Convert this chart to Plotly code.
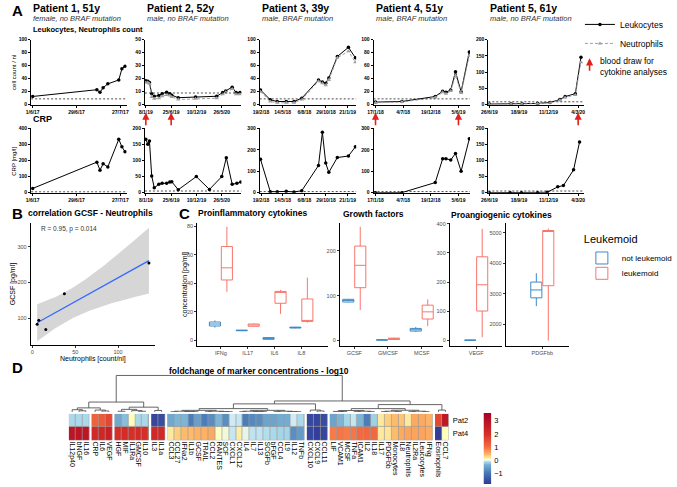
import numpy as np
import plotly.graph_objects as go

W, H = 677, 487
FONT = "Liberation Sans, Arial, sans-serif"

# ---------------- panel A: leukocytes / neutrophils / CRP time courses ----------------
p1_dates = ["2017-06-01", "2017-07-12", "2017-07-14", "2017-07-16", "2017-07-19",
            "2017-07-26", "2017-07-28", "2017-07-30"]
p1_leuko = [12.7, 23, 19, 26, 32, 38, 55, 59]
p1_crp = [26, 190, 140, 180, 160, 332, 286, 255]

p2_dates = ["2019-01-08", "2019-01-21", "2019-02-01", "2019-02-16", "2019-03-05", "2019-04-04",
            "2019-04-26", "2019-05-26", "2019-06-16", "2019-06-29", "2019-08-11", "2019-12-04",
            "2020-04-22", "2020-06-01", "2020-06-21", "2020-08-03", "2020-08-29", "2020-09-24"]
p2_leuko = [18.4, 18, 17, 8.5, 6.5, 7, 8.5, 9.6, 8.5, 7.3, 5.4, 6, 6.5, 9.3, 10.6, 13.5, 9.3, 9.3]
p2_neutro = [17, 17, 16, 6, 4.5, 5, 6.5, 7.5, 7, 6, 4, 4.5, 5, 8, 9.5, 12, 8, 8]
p2_crp_dates = ["2019-01-08", "2019-01-21", "2019-02-01", "2019-02-16", "2019-03-05", "2019-04-04",
                "2019-04-26", "2019-05-26", "2019-06-16", "2019-06-29", "2019-08-11", "2019-12-09",
                "2020-03-05", "2020-05-26", "2020-06-25", "2020-08-03", "2020-09-03", "2020-09-29"]
p2_crp = [166, 151, 161, 52, 15, 26, 29, 29, 33, 34, 9, 50, 10, 50, 109, 26, 29, 33]

p3_dates = ["2018-02-17", "2018-03-27", "2018-04-23", "2018-05-28", "2018-06-27", "2018-07-27",
            "2018-09-30", "2018-10-15", "2018-10-28", "2018-11-09", "2018-12-12", "2019-01-24",
            "2019-02-20"]
p3_leuko = [22.7, 7.6, 5, 5, 5, 10, 38, 35, 33, 41, 74, 88, 72]
p3_neutro = [20, 5, 3, 3, 3, 8, 36, 33, 30, 38, 72, 82, 65]
p3_crp = [156, 4.5, 4.5, 6, 3, 9, 127, 282, 138, 95, 164, 171, 214]

p4_dates = ["2018-01-17", "2018-06-26", "2019-01-15", "2019-03-01", "2019-03-21", "2019-04-19",
            "2019-05-18", "2019-06-21", "2019-08-10"]
p4_leuko = [4, 5, 12.6, 20.7, 19.2, 22.7, 50.5, 20, 81]
p4_neutro = [3, 4, 11, 19, 17, 21, 45, 18, 75]
p4_crp = [0, 0, 47, 158, 158, 153, 183, 100, 252]

p5_dates = ["2019-06-26", "2019-08-27", "2019-09-27", "2019-11-10", "2019-12-15", "2020-01-12",
            "2020-01-27", "2020-02-25", "2020-03-12"]
p5_leuko = [2, 3, 3, 4, 7, 16, 25, 34, 146]
p5_neutro = [1, 2, 2, 3, 6, 14, 22, 30, 130]
p5_crp_dates = ["2019-06-26", "2019-08-24", "2019-09-25", "2019-11-10", "2019-12-07", "2020-01-06",
                "2020-01-22", "2020-02-20", "2020-03-08"]
p5_crp = [0, 0, 0, 0, 1, 18, 22, 71, 158]

p1_ticks = ["2017-06-01", "2017-06-29", "2017-07-27"]
p2_ticks = ["2019-01-08", "2019-06-25", "2019-12-10", "2020-05-26"]
p3_ticks = ["2018-02-19", "2018-05-14", "2018-08-06", "2018-10-29", "2019-01-21"]
p4_ticks = ["2018-01-17", "2018-07-04", "2018-12-19", "2019-06-05"]
p5_ticks = ["2019-06-26", "2019-09-18", "2019-12-11", "2020-03-04"]

# blood draws for cytokine analyses
p2_draws = ["2019-01-08", "2019-06-25"]
p4_draws = ["2018-01-17", "2019-06-05"]
p5_draws = ["2020-03-04"]

patient_titles = ["Patient 1, 51y", "Patient 2, 52y", "Patient 3, 39y", "Patient 4, 51y", "Patient 5, 61y"]
patient_info = ["female, no BRAF mutation", "male, no BRAF mutation", "male, BRAF mutation",
                "male, BRAF mutation", "male, no BRAF mutation"]
leuko_limit = 9
crp_limit = 5

# ---------------- panel B: GCSF vs neutrophils ----------------
b_neutro = [5.6, 7.5, 15.7, 37.4, 136]
b_gcsf = [83, 94, 68, 168, 254]

# ---------------- panel C: cytokine boxplots (lo, q1, median, q3, hi) ----------------
pro_cats = ["IFNg", "IL17", "IL6", "IL8"]
pro_not = dict(lo=[9.0, 6.7, 0.6, 8.5], q1=[10.1, 6.8, 0.8, 8.7], med=[11.5, 7.0, 1.4, 9.0],
               q3=[12.9, 7.2, 2.0, 9.3], hi=[14.0, 7.3, 2.2, 9.5])
pro_leu = dict(lo=[34, 9.5, 18.6, 12.4], q1=[42.3, 9.9, 26.0, 13.3], med=[50.8, 10.8, 33.6, 14.0],
               q3=[65.7, 11.5, 34.3, 29.0], hi=[79.5, 12.0, 35.3, 44.0])
gf_cats = ["GCSF", "GMCSF", "MCSF"]
gf_not = dict(lo=[85, 0.5, 19], q1=[86, 0.8, 21], med=[89.5, 1.2, 24], q3=[92, 1.6, 27], hi=[93, 2, 30])
gf_leu = dict(lo=[68, 1.5, 32], q1=[118, 2.2, 48], med=[168, 4, 64], q3=[211, 5.3, 79], hi=[254, 6, 92])
vegf_not = dict(lo=[0.3], q1=[0.5], med=[1.0], q3=[1.5], hi=[1.8])
vegf_leu = dict(lo=[11], q1=[101], med=[191], q3=[287], hi=[383])
pdgf_not = dict(lo=[2600], q1=[2871], med=[3129], q3=[3387], hi=[3677])
pdgf_leu = dict(lo=[1471], q1=[3268], med=[5050], q3=[5074], hi=[5140])

# ---------------- panel D: log10 fold change heatmap ----------------
hm_labels = ["IL12p40", "bNGF", "IL16", "CRP", "IL6", "VEGF", "HGF", "MIF", "IL1Ra", "GMCSF", "IL10",
             "IL3", "IL1a",
             "CCL3", "CCL27", "IFNa2", "IL1b", "GCSF", "TRAIL", "CCL2", "RANTES", "SCF", "CXCL1",
             "CXCL12", "IL4", "IL7", "IL13", "SCGFb", "bFGF", "CCL4", "IL9", "IL12", "TNFb",
             "CXCL10", "CXCL9", "CCL11",
             "LIF", "VCAM1", "MCSF", "TNFa", "ICAM1", "IL2", "IL18", "IL17", "PDGFbb", "Monocytes",
             "IL8", "Neutrophils", "IL2Ra", "Leucocytes", "IFNg",
             "Eosinophils", "CCL7"]
hm_pat2 = [-0.1, -0.1, -0.1, 1.2, 1.3, 1.6, -0.4, -0.25, 0.1, -0.1, -0.1,
           -1.6, -1.5,
           -0.4, -0.3, -0.3, -0.9, -0.5, -0.9, -0.7, -0.3, -0.7, -0.03,
           -0.05, -0.9, -0.75, -0.7, -0.45, -0.45, -0.35, -0.35, -0.03, -0.1,
           -1.55, -1.6, -1.5,
           -0.45, -0.3, -0.12, -0.05, -0.3, -0.9, -0.15, 0.2, 0.35, 0.45, 0.4, 0.2, 0.55, 0.55, 0.5,
           1.6, 2.8]
hm_pat4 = [2.9, 2.9, 2.9, 2.2, 2.3, 2.5, 2.0, 2.1, 2.0, 2.1, 2.0,
           2.2, 2.2,
           0.2, 0.35, 0.45, 0.45, 0.5, 0.5, 0.55, 0.08, 0.05, -0.05,
           0.18, 0.02, -0.06, -0.06, -0.08, -0.1, -0.12, -0.12, -0.7, -0.55,
           -1.6, -1.7, -1.6,
           0.9, 0.95, 0.9, 0.95, 1.05, 1.1, 1.1, 0.2, 0.22, 0.45, 0.55, 0.6, 0.6, 0.6, 0.55,
           -1.7, 0.1]
hm_groups = [3, 3, 5, 2, 20, 3, 15, 2]
# cluster tree over the column groups: (left, right, merge height), ints are groups
group_heights = [0.6, 0.5, 0.7, 0.4, 0.9, 0.5, 0.9, 0.5]
group_tree = (((0, 1, 1.1), (2, 3, 1.3), 2.7), ((4, 5, 2.2), (6, 7, 2.0), 3.0), 10.0)
hm_zmin, hm_zmax = -1.8, 3.6

# ======================================================================
fig = go.Figure()
annotations = []
shapes = []


def sfx(n):
    return "" if n == 1 else str(n)


def xdom(a, b):
    return [a / W, b / W]


def ydom(top, bottom):
    return [1 - bottom / H, 1 - top / H]


def label(x, y, text, size, bold=False, italic=False, color="black", anchor="left", angle=0):
    if bold:
        text = f"<b>{text}</b>"
    if italic:
        text = f"<i>{text}</i>"
    annotations.append(dict(x=x / W, y=1 - y / H, xref="paper", yref="paper", text=text,
                            showarrow=False, xanchor=anchor, yanchor="middle", textangle=angle,
                            align="left", font=dict(size=size, color=color, family=FONT)))


# ---------------- panel A ----------------
dates = [p1_dates, p2_dates, p3_dates, p4_dates, p5_dates]
leuko = [p1_leuko, p2_leuko, p3_leuko, p4_leuko, p5_leuko]
neutro = [None, p2_neutro, p3_neutro, p4_neutro, p5_neutro]
crp_dates = [p1_dates, p2_crp_dates, p3_dates, p4_dates, p5_crp_dates]
crp = [p1_crp, p2_crp, p3_crp, p4_crp, p5_crp]
ticks = [p1_ticks, p2_ticks, p3_ticks, p4_ticks, p5_ticks]
draws = [[], p2_draws, [], p4_draws, p5_draws]

a_xdom = [(25, 124), (143, 243), (262, 362), (380, 480), (499, 598)]
a_xrange = [["2017-05-31", "2017-07-31"], ["2019-01-02", "2020-10-03"], ["2018-02-14", "2019-02-23"],
            ["2018-01-05", "2019-08-14"], ["2019-06-23", "2020-03-20"]]
leuko_ymax = [100, 50, 100, 100, 200]
leuko_dtick = [20, 10, 20, 20, 50]
crp_ymax = [400, 200, 300, 300, 200]
crp_dtick = [100, 50, 100, 100, 50]

tickfont_a = dict(size=5, family=FONT, weight="bold", color="black")
axis_a = dict(showline=True, linecolor="black", linewidth=1, ticks="outside", ticklen=2,
              tickwidth=1, tickcolor="black", showgrid=False, zeroline=False, tickfont=tickfont_a)
layout_axes = {}

for i in range(5):
    n1, n2 = i + 1, i + 6
    fig.add_trace(go.Scatter(x=dates[i], y=leuko[i], mode="lines+markers", name="Leukocytes",
                             line=dict(color="black", width=1), marker=dict(size=3.5, color="black"),
                             showlegend=(i == 0), xaxis="x" + sfx(n1), yaxis="y" + sfx(n1)))
    if neutro[i] is not None:
        fig.add_trace(go.Scatter(x=dates[i], y=neutro[i], mode="lines+markers", name="Neutrophils",
                                 line=dict(color="#a0a0a0", width=1, dash="3px,2px"),
                                 marker=dict(size=4, color="#a0a0a0", symbol="triangle-up"),
                                 showlegend=(i == 1), xaxis="x" + sfx(n1), yaxis="y" + sfx(n1)))
    fig.add_trace(go.Scatter(x=crp_dates[i], y=crp[i], mode="lines+markers", showlegend=False,
                             line=dict(color="black", width=1), marker=dict(size=3.5, color="black"),
                             xaxis="x" + sfx(n2), yaxis="y" + sfx(n2)))

    for n, top, bot, ymax, dt, lim in [(n1, 37, 103, leuko_ymax[i], leuko_dtick[i], leuko_limit),
                                       (n2, 127, 192, crp_ymax[i], crp_dtick[i], crp_limit)]:
        layout_axes["xaxis" + sfx(n)] = dict(axis_a, domain=xdom(*a_xdom[i]), range=a_xrange[i],
                                             type="date", tickvals=ticks[i], tickformat="%-d/%-m/%y",
                                             tickangle=0, anchor="y" + sfx(n))
        layout_axes["yaxis" + sfx(n)] = dict(axis_a, domain=ydom(top, bot), range=[0, ymax],
                                             dtick=dt, anchor="x" + sfx(n))
        shapes.append(dict(type="line", xref="x" + sfx(n) + " domain", yref="y" + sfx(n),
                           x0=0, x1=1, y0=lim, y1=lim,
                           line=dict(color="black", width=0.7, dash="2px,2px")))

    for d in draws[i]:
        annotations.append(dict(x=d, y=1 - 111 / H, xref="x" + sfx(n1), yref="paper", text="",
                                showarrow=True, ax=0, ay=14, arrowhead=2, arrowsize=0.9,
                                arrowwidth=1.6, arrowcolor="#e3211c"))

    label(a_xdom[i][0], 5.5, patient_titles[i], 10.5, bold=True)
    label(a_xdom[i][0], 15.5, patient_info[i], 7.5, italic=True, color="#333333")

label(3, 8, "A", 15, bold=True)
label(25, 27, "Leukocytes, Neutrophils count", 7.5, bold=True)
label(25, 117, "CRP", 9, bold=True)
label(7, 70, "cell count / nl", 6, anchor="center", angle=-90)
label(7, 160, "CRP [mg/l]", 6, anchor="center", angle=-90)
annotations.append(dict(x=604 / W, y=1 - 56 / H, xref="paper", yref="paper", text="", showarrow=True,
                        ax=0, ay=14, arrowhead=2, arrowsize=0.9, arrowwidth=1.6, arrowcolor="#e3211c"))
label(613, 64, "blood draw for<br>cytokine analyses", 8.5)

# ---------------- panel B ----------------
bx = np.array(b_neutro, dtype=float)
by = np.array(b_gcsf, dtype=float)
nb = len(bx)
slope, icpt = np.polyfit(bx, by, 1)
xs = np.linspace(bx.min(), bx.max(), 80)
fit = icpt + slope * xs
resid = by - (icpt + slope * bx)
s_err = np.sqrt(np.sum(resid ** 2) / (nb - 2))
sxx = np.sum((bx - bx.mean()) ** 2)
se = s_err * np.sqrt(1 / nb + (xs - bx.mean()) ** 2 / sxx)
tval = 3.182  # t quantile 0.975, df = 3

fig.add_trace(go.Scatter(x=xs, y=fit - tval * se, mode="lines", line=dict(width=0), showlegend=False,
                         xaxis="x11", yaxis="y11", hoverinfo="skip"))
fig.add_trace(go.Scatter(x=xs, y=fit + tval * se, mode="lines", line=dict(width=0), fill="tonexty",
                         fillcolor="rgba(153,153,153,0.4)", showlegend=False, xaxis="x11", yaxis="y11",
                         hoverinfo="skip"))
fig.add_trace(go.Scatter(x=xs, y=fit, mode="lines", line=dict(color="#3366FF", width=1.2),
                         showlegend=False, xaxis="x11", yaxis="y11"))
fig.add_trace(go.Scatter(x=bx, y=by, mode="markers", marker=dict(color="black", size=3),
                         showlegend=False, xaxis="x11", yaxis="y11"))

gg_tick = dict(size=5.5, family=FONT, color="#4d4d4d")
axis_gg = dict(showline=True, linecolor="black", linewidth=0.8, ticks="outside", ticklen=2,
               tickcolor="#333333", showgrid=False, zeroline=False, tickfont=gg_tick)
layout_axes["xaxis11"] = dict(axis_gg, domain=xdom(24.5, 153), range=[-2, 142.6], tickvals=[0, 50, 100],
                              anchor="y11")
layout_axes["yaxis11"] = dict(axis_gg, domain=ydom(223, 346), range=[25.3, 365.6],
                              tickvals=[100, 200, 300], anchor="x11")
label(3, 213, "B", 15, bold=True)
label(20, 213, "correlation GCSF - Neutrophils", 8.5, bold=True)
label(33, 229, "R = 0.95, p = 0.014", 6.5, color="#333333")
label(7, 285, "GCSF [pg/ml]", 7, anchor="center", angle=-90)
label(89, 360, "Neutrophils [count/nl]", 7, anchor="center")

# ---------------- panel C ----------------
BLUE, RED = "#3e8ac4", "#f8766d"
BOX_PX, DODGE_PX = 11.5, 6.2
c_panels = [
    (12, pro_cats, pro_not, pro_leu, (197, 333), [-0.89, 4.0], [-3.7, 82], [0, 20, 40, 60, 80]),
    (13, gf_cats, gf_not, gf_leu, (345, 452), [-0.43, 2.63], [-11.7, 262], [0, 100, 200]),
    (14, ["VEGF"], vegf_not, vegf_leu, (459, 513), [-0.61, 0.59], [-18, 402], [0, 100, 200, 300, 400]),
    (15, ["PDGFbb"], pdgf_not, pdgf_leu, (517, 583), [-0.84, 0.62], [1305, 5311], [2000, 3000, 4000, 5000]),
]
for k, (n, cats, d_not, d_leu, xd, xr, yr, yt) in enumerate(c_panels):
    ppu = (xd[1] - xd[0]) / (xr[1] - xr[0])
    for name, color, d, sgn, lg in [("not leukemoid", BLUE, d_not, -1, "legend2"),
                                    ("leukemoid", RED, d_leu, 1, "legend3")]:
        fig.add_trace(go.Box(x=[j + sgn * DODGE_PX / ppu for j in range(len(cats))],
                             q1=d["q1"], median=d["med"], q3=d["q3"],
                             lowerfence=d["lo"], upperfence=d["hi"], name=name, width=BOX_PX / ppu,
                             showlegend=(k == 0), legend=lg, boxpoints=False, whiskerwidth=0,
                             fillcolor="white", line=dict(color=color, width=1), marker=dict(color=color),
                             xaxis="x" + str(n), yaxis="y" + str(n)))
    layout_axes["xaxis" + str(n)] = dict(axis_gg, domain=xdom(*xd), range=xr,
                                         tickvals=list(range(len(cats))), ticktext=cats,
                                         anchor="y" + str(n))
    layout_axes["yaxis" + str(n)] = dict(axis_gg, domain=ydom(223, 347), range=yr, tickvals=yt,
                                         anchor="x" + str(n))
label(176, 213, "C", 15, bold=True)
label(196, 213, "Proinflammatory cytokines", 8.5, bold=True)
label(346, 214, "Growth factors", 8.5, bold=True)
label(458, 215, "Proangiogenic cytokines", 8.5, bold=True)
label(185, 285, "concentration [pg/ml]", 7, anchor="center", angle=-90)

# ---------------- panel D ----------------
GAP = 0.35
pos, starts = [], []
col = 0
for g, size in enumerate(hm_groups):
    starts.append(col)
    for j in range(size):
        pos.append(col + g * GAP)
        col += 1
starts.append(col)

hm_scale = [[0.0, "#313695"], [0.15, "#4575b4"], [0.27, "#74add1"], [0.315, "#abd9e9"],
            [0.333, "#e0f3f8"], [0.35, "#ffffbf"], [0.38, "#fee090"], [0.43, "#fdae61"],
            [0.52, "#f46d43"], [0.70, "#d73027"], [1.0, "#a50026"]]
for g in range(len(hm_groups)):
    a, b = starts[g], starts[g + 1]
    fig.add_trace(go.Heatmap(x=pos[a:b], y=["Pat2", "Pat4"], z=[hm_pat2[a:b], hm_pat4[a:b]],
                             colorscale=hm_scale, zmin=hm_zmin, zmax=hm_zmax, xgap=0.7, ygap=0.7,
                             showscale=False, xaxis="x16", yaxis="y16"))
    shapes.append(dict(type="rect", xref="x16", yref="y16", x0=pos[a] - 0.5, x1=pos[b - 1] + 0.5,
                       y0=-0.5, y1=1.5, fillcolor="#9a9a9a", line=dict(width=0), layer="below"))

# colour key drawn as a thin strip on its own axis, so it sits exactly where pheatmap puts it
key_levels = np.linspace(hm_zmin, hm_zmax, 120)
fig.add_trace(go.Heatmap(x=[0], y=key_levels, z=[[v] for v in key_levels], colorscale=hm_scale,
                         zmin=hm_zmin, zmax=hm_zmax, showscale=False, xaxis="x18", yaxis="y18",
                         hoverinfo="skip"))
layout_axes["xaxis18"] = dict(domain=xdom(494, 502), range=[-0.5, 0.5], visible=False, anchor="y18")
layout_axes["yaxis18"] = dict(domain=ydom(415, 487), range=[hm_zmin, hm_zmax], side="right",
                              tickvals=[-1, 0, 1, 2, 3], ticks="", showline=False, showgrid=False,
                              zeroline=False, ticklabelstandoff=2,
                              tickfont=dict(size=7.5, family=FONT, color="black"), anchor="x18")


def group_subtree(leaves, top, n_total):
    if len(leaves) == 1:
        return leaves[0]
    mid = len(leaves) // 2
    h = top * (len(leaves) - 1) / max(n_total - 1, 1)
    return (group_subtree(leaves[:mid], top, n_total), group_subtree(leaves[mid:], top, n_total), h)


group_nodes = [group_subtree(list(range(starts[g], starts[g + 1])), group_heights[g], hm_groups[g])
               for g in range(len(hm_groups))]


def expand(node):
    if isinstance(node, int):
        return group_nodes[node]
    return (expand(node[0]), expand(node[1]), node[2])


dx, dy = [], []


def draw(node):
    if isinstance(node, int):
        return pos[node], 0.0
    xl, hl = draw(node[0])
    xr, hr = draw(node[1])
    h = node[2]
    dx.extend([xl, xl, xr, xr, None])
    dy.extend([hl, h, h, hr, None])
    return (xl + xr) / 2, h


draw(expand(group_tree))
fig.add_trace(go.Scatter(x=dx, y=dy, mode="lines", line=dict(color="#555555", width=0.9),
                         showlegend=False, xaxis="x17", yaxis="y17", hoverinfo="skip"))

hm_range = [pos[0] - 0.5, pos[-1] + 0.5]
layout_axes["xaxis16"] = dict(domain=xdom(64, 458), range=hm_range, tickvals=pos, ticktext=hm_labels,
                              tickangle=90, ticks="", showgrid=False, zeroline=False, showline=False,
                              tickfont=dict(size=7, family=FONT, color="black"), anchor="y16")
layout_axes["yaxis16"] = dict(domain=ydom(416, 443), autorange="reversed", side="right", ticks="",
                              showgrid=False, zeroline=False, showline=False, ticklabelstandoff=3,
                              tickfont=dict(size=7.5, family=FONT, color="black"), anchor="x16")
layout_axes["xaxis17"] = dict(domain=xdom(64, 458), range=hm_range, visible=False, anchor="y17")
layout_axes["yaxis17"] = dict(domain=ydom(376, 414), range=[0, 10.3], visible=False, anchor="x17")
label(3, 369, "D", 15, bold=True)
label(261, 373, "foldchange of marker concentrations - log10", 8.5, bold=True, anchor="center")

legend_common = dict(xanchor="left", yanchor="top", bgcolor="rgba(0,0,0,0)", itemwidth=30,
                     tracegroupgap=0, traceorder="normal")
fig.update_layout(
    width=W, height=H, margin=dict(l=0, r=0, t=0, b=0),
    paper_bgcolor="white", plot_bgcolor="white",
    font=dict(family=FONT, color="black"),
    boxmode="overlay",
    legend=dict(legend_common, x=594 / W, y=1 - 7 / H, font=dict(size=8.5, family=FONT)),
    legend2=dict(legend_common, title=dict(text="Leukemoid", font=dict(size=11, family=FONT)),
                 x=596 / W, y=1 - 229 / H, font=dict(size=8, family=FONT)),
    legend3=dict(legend_common, x=596 / W, y=1 - 259 / H, font=dict(size=8, family=FONT)),
    annotations=annotations, shapes=shapes,
    **layout_axes,
)

fig.write_html("out.html", config={"displayModeBar": False, "responsive": False},
               post_script="document.body.style.margin='0';"
                           "document.documentElement.style.overflow='hidden';"
                           "document.body.style.overflow='hidden';")
